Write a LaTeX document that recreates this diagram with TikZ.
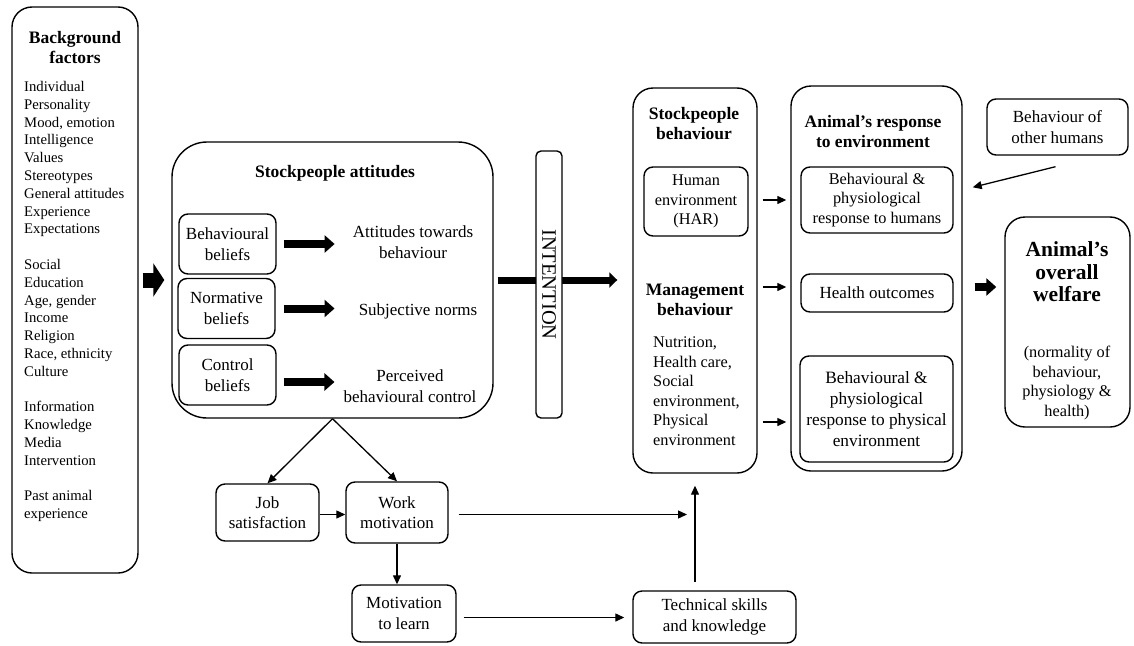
\documentclass[tikz,border=0pt]{standalone}
\usepackage{fontspec}
\setmainfont{Liberation Serif}
\usetikzlibrary{arrows.meta,calc}

\tikzset{
  panel/.style={draw, line width=1.4pt, rounded corners=20pt, inner sep=0pt},
  box/.style={draw, line width=1.4pt, rounded corners=9pt, inner sep=0pt, align=center, font={\fontsize{17}{20.5}\selectfont}},
  head/.style={align=center, inner sep=0pt, font={\bfseries\fontsize{17.5}{20}\selectfont}},
  lbl/.style={align=center, inner sep=0pt, font={\fontsize{17}{20.5}\selectfont}},
  small/.style={font={\fontsize{16.3}{19.5}\selectfont}},
  arr/.style={line width=1.3pt, -{Triangle[length=9pt,width=8pt]}},
  fat/.style={line width=8pt, -{Triangle[length=10pt,width=17pt]}},
}

\begin{document}
\begin{tikzpicture}[x=1pt,y=-1pt]
  \useasboundingbox (0,0) rectangle (1134,645);

  % Background factors
  \node[panel, minimum width=126pt, minimum height=566pt] (bg) at (75,290) {};
  \node[head] (bgtitle) at (75,48) {Background\\factors};
  \node[lbl, align=left, anchor=north west, font={\fontsize{14.7}{17.8}\selectfont}] (bglist) at (24,81)
    {Individual\\Personality\\Mood, emotion\\Intelligence\\Values\\Stereotypes\\General attitudes\\Experience\\Expectations\\[17.8pt]
     Social\\Education\\Age, gender\\Income\\Religion\\Race, ethnicity\\Culture\\[17.8pt]
     Information\\Knowledge\\Media\\Intervention\\[17.8pt]
     Past animal\\experience};

  % Stockpeople attitudes
  \node[panel, rounded corners=35pt, minimum width=321pt, minimum height=276pt] (sa) at (332.5,280) {};
  \node[head] (satitle) at (335,173) {Stockpeople attitudes};
  \node[box, minimum width=97pt, minimum height=60pt] (bb) at (227.5,244) {Behavioural\\beliefs};
  \node[box, minimum width=97pt, minimum height=60pt] (nb) at (226.5,308.5) {Normative\\beliefs};
  \node[box, minimum width=97pt, minimum height=60pt] (cb) at (227.5,375) {Control\\beliefs};
  \node[lbl] (att) at (413,242) {Attitudes towards\\behaviour};
  \node[lbl] (sn) at (418,311) {Subjective norms};
  \node[lbl] (pbc) at (410,386) {Perceived\\behavioural control};

  % Stockpeople behaviour
  \node[panel, minimum width=124pt, minimum height=385pt] (sb) at (695,280.5) {};
  \node[head] (sbtitle) at (694,124) {Stockpeople\\behaviour};
  \node[box, small, minimum width=104pt, minimum height=69pt] (har) at (696,201.5) {Human\\environment\\(HAR)};
  \node[head] (mbtitle) at (695,299.5) {Management\\behaviour};
  \node[lbl, small, align=left, anchor=north west] (mblist) at (653,337)
    {Nutrition,\\Health care,\\Social\\environment,\\Physical\\environment};

  % Animal's response to environment
  \node[panel, minimum width=171pt, minimum height=385pt] (are) at (876.5,278.5) {};
  \node[head] (aretitle) at (873,132) {Animal's response\\to environment};
  \node[box, small, minimum width=152pt, minimum height=66pt] (rh) at (877,200) {Behavioural \&\\physiological\\response to humans};
  \node[box, minimum width=152pt, minimum height=38pt] (ho) at (877,293) {Health outcomes};
  \node[box, font={\fontsize{17.3}{21}\selectfont}, minimum width=153pt, minimum height=106pt] (rp) at (876.5,409)
    {Behavioural \&\\physiological\\response to physical\\environment};

  \node[box, minimum width=141pt, minimum height=56pt] (oh) at (1057.5,127) {Behaviour of\\other humans};

  % Welfare
  \node[panel, minimum width=125pt, minimum height=210pt] (wf) at (1067.5,322) {};
  \node[head, font={\bfseries\fontsize{21.5}{22.5}\selectfont}] (wftitle) at (1067,272) {Animal's\\overall\\welfare};
  \node[lbl, small] (wfnote) at (1067,383) {(normality of\\behaviour,\\physiology \&\\health)};

  % Motivation and skills
  \node[box, minimum width=103pt, minimum height=57pt] (js) at (267.5,512.5) {Job\\satisfaction};
  \node[box, minimum width=102pt, minimum height=61pt] (wm) at (397,512.5) {Work\\motivation};
  \node[box, minimum width=104pt, minimum height=57pt] (ml) at (404,613.5) {Motivation\\to learn};
  \node[box, minimum width=163pt, minimum height=52pt] (tk) at (714.5,617) {Technical skills\\and knowledge};

  % thick arrows
  \draw[fat, line width=15pt, -{Triangle[length=11pt,width=33pt]}, shorten <=4pt, shorten >=7pt] (bg.east |- sa.west) -- (sa.west);
  \draw[fat, shorten <=7pt, shorten >=18pt] (bb.east) -- (bb.east -| att.west);
  \draw[fat, shorten <=8pt, shorten >=24pt] (nb.east) -- (nb.east -| sn.west);
  \draw[fat, shorten <=7pt, shorten >=9pt] ([yshift=-7pt]cb.east) -- ([yshift=-7pt]cb.east -| pbc.west);
  \draw[fat, line width=7pt, -{Triangle[length=8pt,width=15pt]}, shorten <=4pt, shorten >=15pt] (sa.east) -- (sa.east -| sb.west);
  \node[box, fill=white, rotate=-90, rounded corners=5pt, minimum width=267pt, minimum height=26pt,
        font={\fontsize{20.5}{24}\selectfont}] (int) at (549,284.5) {INTENTION};
  \draw[fat, shorten <=12pt, shorten >=8pt] ($(are.east |- ho.east)+(0,-6)$) -- ($(wf.west |- ho.east)+(0,-6)$);

  % thin arrows
  \draw[arr, shorten <=5pt, shorten >=4pt] (sb.east |- rh.west) -- (are.west |- rh.west);
  \draw[arr, shorten <=5pt, shorten >=4pt] ($(sb.east |- ho.west)+(0,-6)$) -- ($(are.west |- ho.west)+(0,-6)$);
  \draw[arr, shorten <=5pt, shorten >=4pt] ($(sb.east |- rp.west)+(0,13)$) -- ($(are.west |- rp.west)+(0,13)$);
  \draw[arr] ($(oh.south)+(-2,11)$) -- ($(are.east |- rh.north)+(10,21)$);

  \draw[arr] (sa.south) -- (js.north);
  \draw[arr] (sa.south) -- (wm.north);
  \draw[arr] ([yshift=-2pt]js.east) -- ([yshift=-2pt]js.east -| wm.west);
  \draw[arr, shorten <=10pt, shorten >=8pt] ([yshift=-2pt]wm.east) -- ([yshift=-2pt]wm.east -| sb.south);
  \draw[arr] (wm.south) -- (wm.south |- ml.north);
  \draw[arr, shorten <=7pt, shorten >=8pt] ([yshift=-4pt]ml.east) -- ([yshift=-4pt]ml.east -| tk.west);
  \draw[arr, shorten <=8pt, shorten >=12pt] (tk.north -| sb.south) -- (sb.south);
\end{tikzpicture}
\end{document}
